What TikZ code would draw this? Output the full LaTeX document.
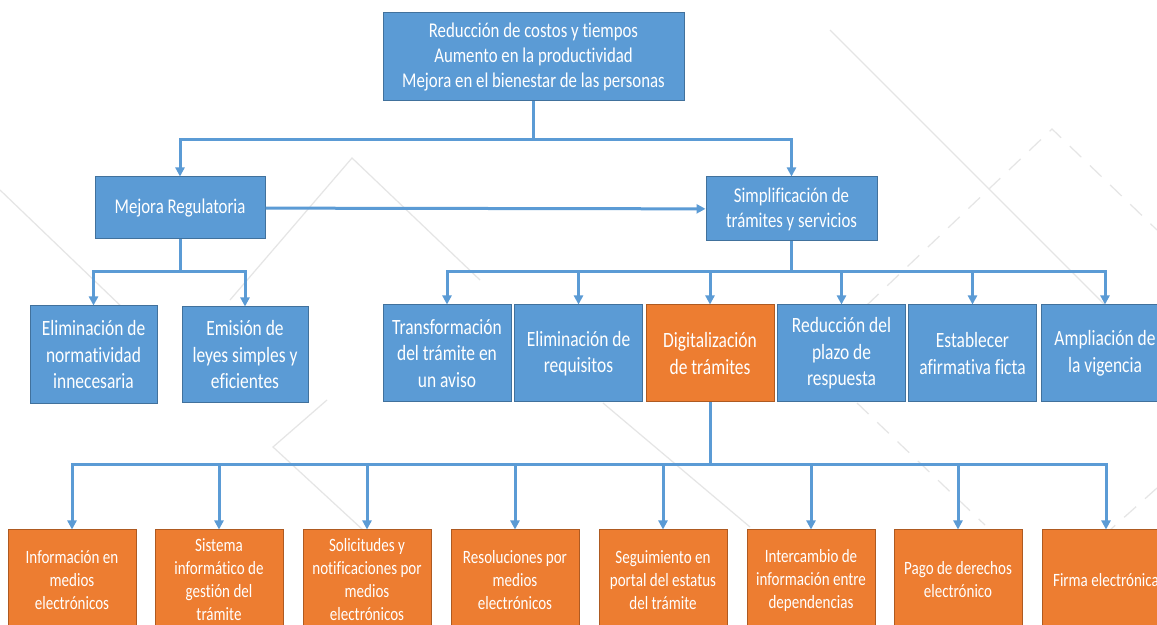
\documentclass[tikz,border=0pt]{standalone}
\usepackage{fontspec}
\setmainfont{Carlito}[FakeStretch=0.8, Ligatures=NoCommon]
\usetikzlibrary{arrows.meta,positioning}
\definecolor{boxblue}{HTML}{5B9BD5}
\definecolor{edgeblue}{HTML}{41719C}
\definecolor{boxorange}{HTML}{ED7D31}
\definecolor{edgeorange}{HTML}{AE5A21}

\begin{document}
\begin{tikzpicture}[
  x=0.5pt, y=-0.5pt,
  every node/.style={font=\fontsize{10.5}{12.5}\selectfont, text=white, align=center, inner sep=1pt},
  bluebox/.style={draw=edgeblue, fill=boxblue, line width=0.5pt},
  orangebox/.style={draw=edgeorange, fill=boxorange, line width=0.5pt},
  task/.style={minimum width=64pt, minimum height=48.5pt, font=\fontsize{10.9}{13.25}\selectfont},
  subtask/.style={minimum width=64pt, minimum height=50pt, font=\fontsize{9.4}{11.5}\selectfont},
  link/.style={draw=boxblue, line width=1.5pt},
  arrow/.style={link, -{Triangle[width=4.5pt,length=4.5pt]}},
  deco/.style={draw=black!10, line width=0.6pt}
]
\useasboundingbox (0,0) rectangle (1157,625);
\clip (0,0) rectangle (1157,625);
\fill[white] (0,0) rectangle (1157,625);

% faint background pattern
\draw[deco] (0,190) -- (125,310);
\draw[deco] (230,300) -- (352,158) -- (480,280);
\draw[deco] (327,400) -- (273,447) -- (363,530);
\draw[deco] (603,403) -- (750,527);
\draw[deco] (830,30) -- (1110,310);
\draw[deco, dashed, dash pattern=on 8pt off 6pt] (867,305) -- (1052,129) -- (1157,230);
\draw[deco, dashed, dash pattern=on 8pt off 6pt] (857,403) -- (985,525);
\draw[deco, dashed, dash pattern=on 8pt off 6pt] (1157,488) -- (1110,530);

% top level
\node[bluebox, minimum width=150.5pt, minimum height=44pt] (goal) at (533.5,57)
  {Reducción de costos y tiempos\\Aumento en la productividad\\Mejora en el bienestar de las personas};

\node[bluebox, minimum width=85pt, minimum height=31pt] (mejora) at (180,208) {Mejora Regulatoria};
\node[bluebox, minimum width=85.5pt, minimum height=32pt] (simpl) at (791.5,209)
  {Simplificación de\\trámites y servicios};

% mejora regulatoria
\node[bluebox, task, minimum width=63.5pt, minimum height=49pt] (elimnorm) at (93.5,355)
  {Eliminación de\\normatividad\\innecesaria};
\node[bluebox, task, minimum width=63pt, minimum height=48pt] (emision) at (245,355)
  {Emisión de\\leyes simples y\\eficientes};

% simplificacion
\node[bluebox, task] (transf) at (447,353.5) {Transformación\\del trámite en\\un aviso};
\node[bluebox, task] (elimreq) at (578.5,353.5) {Eliminación de\\requisitos};
\node[orangebox, task] (digital) at (710,353.5) {Digitalización\\de trámites};
\node[bluebox, task] (reduc) at (841.5,353.5) {Reducción del\\plazo de\\respuesta};
\node[bluebox, task] (estab) at (972.5,353.5) {Establecer\\afirmativa ficta};
\node[bluebox, task] (ampl) at (1105,353.5) {Ampliación de\\la vigencia};

% digitalizacion
\node[orangebox, subtask] (info) at (72,580) {Información en\\medios\\electrónicos};
\node[orangebox, subtask] (sistema) at (219,580) {Sistema\\informático de\\gestión del\\trámite};
\node[orangebox, subtask] (solic) at (367,580) {Solicitudes y\\notificaciones por\\medios\\electrónicos};
\node[orangebox, subtask] (resol) at (515,580) {Resoluciones por\\medios\\electrónicos};
\node[orangebox, subtask] (segui) at (663,580) {Seguimiento en\\portal del estatus\\del trámite};
\node[orangebox, subtask] (interc) at (811,580) {Intercambio de\\información entre\\dependencias};
\node[orangebox, subtask] (pago) at (958,580) {Pago de derechos\\electrónico};
\node[orangebox, subtask] (firma) at (1106,580) {Firma electrónica};

% connectors
\coordinate (busgoal) at (533.5,140);
\draw[link] (goal) -- (busgoal);
\draw[arrow] (busgoal) -| (mejora);
\draw[arrow] (busgoal) -| (simpl);
\draw[arrow] (mejora) -- (simpl);

\coordinate (busmejora) at (180,272);
\draw[link] (mejora) -- (busmejora);
\foreach \n in {elimnorm,emision}
  \draw[arrow] (busmejora) -| (\n);

\coordinate (bussimpl) at (791.5,272);
\draw[link] (simpl) -- (bussimpl);
\foreach \n in {transf,elimreq,digital,reduc,estab,ampl}
  \draw[arrow] (bussimpl) -| (\n);

\coordinate (busdigital) at (710,465);
\draw[link] (digital) -- (busdigital);
\foreach \n in {info,sistema,solic,resol,segui,interc,pago,firma}
  \draw[arrow] (busdigital) -| (\n);
\end{tikzpicture}
\end{document}
